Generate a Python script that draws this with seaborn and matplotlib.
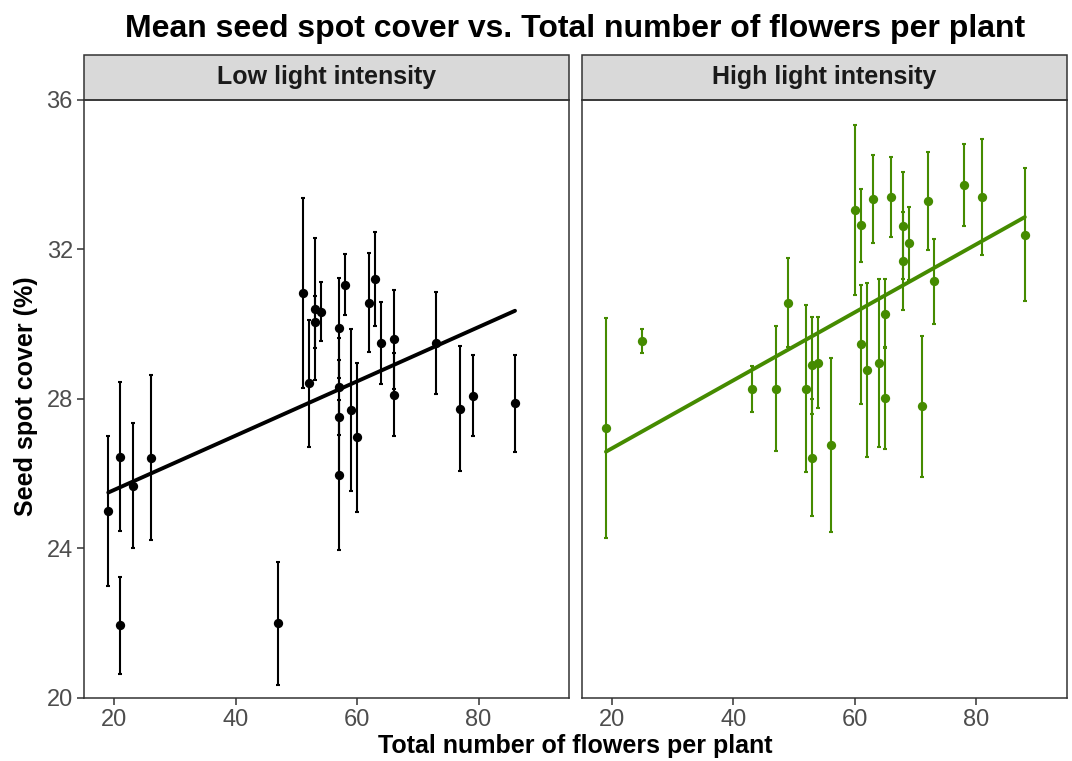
import numpy as np
import pandas as pd
import matplotlib
matplotlib.use("Agg")
import matplotlib.pyplot as plt
from matplotlib.patches import Rectangle
import seaborn as sns

# Low light intensity
low_flowers = [19, 21, 21, 23, 26, 47, 51, 52, 53, 53, 54, 57, 57, 57, 57,
               58, 59, 60, 62, 63, 64, 66, 66, 73, 77, 79, 86]
low_cover = [25.0, 26.46, 21.94, 25.68, 26.43, 22.0, 30.84, 28.42, 30.4, 30.06,
             30.34, 29.9, 28.33, 27.53, 25.97, 31.06, 27.7, 26.97, 30.58, 31.2,
             29.5, 29.6, 28.12, 29.5, 27.74, 28.09, 27.88]
low_se = [2.0, 2.0, 1.3, 1.67, 2.2, 1.65, 2.55, 1.7, 1.9, 0.7, 0.8, 1.35, 1.3,
          1.5, 2.0, 0.82, 2.16, 2.0, 1.33, 1.26, 1.1, 1.32, 1.12, 1.37, 1.67,
          1.08, 1.29]

# High light intensity
high_flowers = [19, 25, 43, 47, 49, 52, 53, 53, 54, 56, 60, 61, 61, 62, 63, 64,
                65, 65, 66, 68, 68, 69, 71, 72, 73, 78, 81, 88]
high_cover = [27.22, 29.55, 28.26, 28.28, 30.58, 28.28, 28.9, 26.43, 28.97,
              26.78, 33.06, 32.65, 29.46, 28.77, 33.35, 28.96, 30.28, 28.02,
              33.41, 32.64, 31.7, 32.17, 27.8, 33.29, 31.15, 33.73, 33.4, 32.4]
high_se = [2.95, 0.33, 0.62, 1.66, 1.18, 2.24, 1.3, 1.56, 1.22, 2.33, 2.28,
           0.98, 1.6, 2.33, 1.17, 2.24, 0.92, 1.37, 1.07, 1.44, 1.31, 0.98,
           1.88, 1.31, 1.14, 1.09, 1.55, 1.77]

panels = ["Low light intensity", "High light intensity"]
colors = ["black", "#458B00"]

df = pd.concat([
    pd.DataFrame({"flowers": low_flowers, "cover": low_cover, "se": low_se,
                  "light": panels[0]}),
    pd.DataFrame({"flowers": high_flowers, "cover": high_cover, "se": high_se,
                  "light": panels[1]}),
])

sns.set_theme(style="white")
plt.rcParams["font.family"] = ["Liberation Sans", "DejaVu Sans"]
plt.rcParams["text.color"] = "black"

fig, axes = plt.subplots(1, 2, figsize=(10.72, 7.61), dpi=100, sharey=True)
fig.subplots_adjust(left=84 / 1072, right=1066.7 / 1072, bottom=0.0828,
                    top=0.8686, wspace=0.026)

for ax, name, col in zip(axes, panels, colors):
    sub = df[df["light"] == name]
    ax.errorbar(sub["flowers"], sub["cover"], yerr=sub["se"], fmt="none",
                ecolor=col, elinewidth=1.5, capsize=1.2, capthick=1.5, zorder=2)
    sns.scatterplot(data=sub, x="flowers", y="cover", color=col, s=45,
                    edgecolor=col, linewidth=0, ax=ax, zorder=3)
    sns.regplot(data=sub, x="flowers", y="cover", scatter=False, ci=None,
                color=col, line_kws={"lw": 2.8}, ax=ax)
    ax.set_xlim(15, 94.9)
    ax.set_ylim(20, 36)
    ax.set_xticks([20, 40, 60, 80])
    ax.set_yticks([20, 24, 28, 32, 36])
    ax.set_xlabel("")
    ax.set_ylabel("")
    ax.grid(False)
    for s in ax.spines.values():
        s.set_color("#333333")
        s.set_linewidth(1.1)
    ax.tick_params(axis="both", colors="#333333", labelcolor="#4D4D4D",
                   labelsize=17, length=5, width=1.1, direction="out",
                   bottom=True, left=True, pad=3)
    # facet strip
    ax.add_patch(Rectangle((0, 1), 1, 45 / 598, transform=ax.transAxes,
                           facecolor="#D9D9D9", edgecolor="#333333",
                           linewidth=1.1, clip_on=False))
    ax.text(0.5, 1 + 22.5 / 598, name, transform=ax.transAxes, ha="center",
            va="center", fontsize=18, fontweight="bold", color="#1A1A1A")

axes[1].tick_params(axis="y", left=False, labelleft=False)

xc = 0.5 * (84 + 1066.7) / 1072
fig.text(xc, 1 - 746 / 761, "Total number of flowers per plant",
         ha="center", va="center", fontsize=18, fontweight="bold")
fig.text(26 / 1072, 1 - 396 / 761, "Seed spot cover (%)", rotation=90,
         ha="center", va="center", fontsize=18, fontweight="bold")
fig.text(xc, 1 - 29 / 761,
         "Mean seed spot cover vs. Total number of flowers per plant",
         ha="center", va="center", fontsize=23, fontweight="bold")

fig.savefig("out.png", dpi=100)
